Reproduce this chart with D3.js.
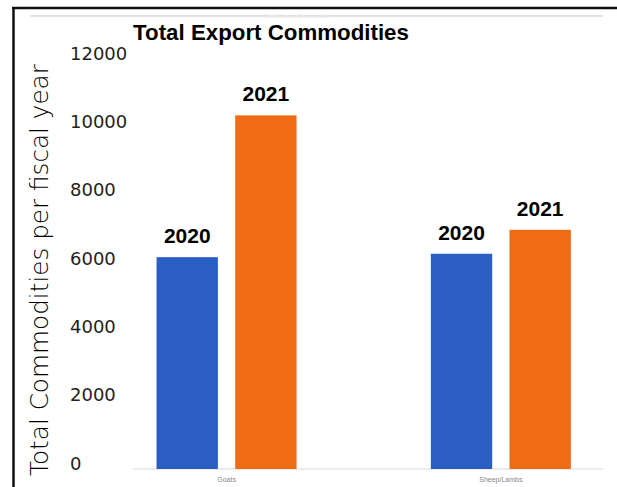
<!DOCTYPE html>
<html>
<head>
<meta charset="utf-8">
<script src="https://cdn.jsdelivr.net/npm/d3@7/dist/d3.min.js"></script>
<style>
  html, body { margin: 0; padding: 0; background: #fff; }
  svg { display: block; }
</style>
</head>
<body>
<svg id="chart" width="617" height="487"></svg>
<script>
// Export commodity totals per fiscal year
const categories = ["Goats", "Sheep/Lambs"];
const seriesNames = ["2020", "2021"];
const values2020 = [6200, 6300];
const values2021 = [10350, 7000];
const yTicks = [0, 2000, 4000, 6000, 8000, 10000, 12000];
const chartTitle = "Total Export Commodities";
const yTitle = "Total Commodities per fiscal year";

const colors = { "2020": "#2b5ec3", "2021": "#ef6b14" };

const svg = d3.select("#chart");
const W = 617, H = 487;

// scales
const y = d3.scaleLinear().domain([0, 12000]).range([469, 59]);
const x = d3.scaleBand().domain(categories).range([89.4, 638.0]);
const xInner = d3.scaleBand().domain(seriesNames).range([-70, 70]).paddingInner(0.22);

// frame lines along the top and left edges
svg.append("line").attr("x1", 12).attr("x2", W).attr("y1", 8).attr("y2", 8)
  .attr("stroke", "#111").attr("stroke-width", 2.5);
svg.append("line").attr("x1", 13.5).attr("x2", 13.5).attr("y1", 7).attr("y2", H)
  .attr("stroke", "#111").attr("stroke-width", 2.5);

// faint inner chart border and small caption
svg.append("line").attr("x1", 30).attr("x2", 603).attr("y1", 16).attr("y2", 16)
  .attr("stroke", "#e4e4e4").attr("stroke-width", 2);
svg.append("text").attr("x", 298).attr("y", 17.5).attr("text-anchor", "middle")
  .attr("font-family", "Liberation Sans, Arial, sans-serif").attr("font-size", 6)
  .attr("fill", "#e2e6ec").text(chartTitle);

// baseline
svg.append("line").attr("x1", 133).attr("x2", 603).attr("y1", y(0)).attr("y2", y(0))
  .attr("stroke", "#d9d9d9").attr("stroke-width", 1);

// bars
const rows = categories.map((c, i) => ({
  category: c,
  items: [
    { series: "2020", value: values2020[i] },
    { series: "2021", value: values2021[i] }
  ]
}));

const groups = svg.append("g").selectAll("g").data(rows).join("g")
  .attr("transform", d => `translate(${x(d.category) + x.bandwidth() / 2},0)`);

groups.selectAll("rect").data(d => d.items).join("rect")
  .attr("x", d => xInner(d.series))
  .attr("width", xInner.bandwidth())
  .attr("y", d => y(d.value))
  .attr("height", d => y(0) - y(d.value))
  .attr("fill", d => colors[d.series]);

// series labels above each bar
groups.selectAll("text.bar-label").data(d => d.items).join("text")
  .attr("class", "bar-label")
  .attr("x", d => xInner(d.series) + xInner.bandwidth() / 2)
  .attr("y", d => y(d.value) - 14)
  .attr("text-anchor", "middle")
  .attr("font-family", "Liberation Sans, Arial, sans-serif")
  .attr("font-weight", "bold")
  .attr("font-size", 21)
  .attr("fill", "#000")
  .text(d => d.series);

// y axis tick labels
const yAxis = svg.append("g").attr("transform", "translate(70,0)")
  .call(d3.axisLeft(y).tickValues(yTicks).tickSize(0).tickFormat(d3.format("d")));
yAxis.select(".domain").remove();
yAxis.selectAll("text")
  .attr("x", 0).attr("dy", 0)
  .attr("text-anchor", "start")
  .attr("font-family", "DejaVu Sans, sans-serif")
  .attr("font-weight", "normal")
  .attr("font-size", 18)
  .attr("fill", "#222");

// x axis category labels
const xAxis = svg.append("g").attr("transform", `translate(0,${y(0)})`)
  .call(d3.axisBottom(x).tickSize(0).tickPadding(8));
xAxis.select(".domain").remove();
xAxis.selectAll("text")
  .attr("font-family", "Liberation Sans, Arial, sans-serif")
  .attr("font-size", 7)
  .attr("fill", "#888");

// fit a text element to a target width
function fitWidth(sel, target) {
  const node = sel.node();
  const fs = parseFloat(sel.attr("font-size"));
  const len = node.getComputedTextLength();
  if (len > 0) sel.attr("font-size", fs * target / len);
}

// chart title
const title = svg.append("text")
  .attr("x", 271).attr("y", 40)
  .attr("text-anchor", "middle")
  .attr("font-family", "Liberation Sans, Arial, sans-serif")
  .attr("font-weight", "bold")
  .attr("font-size", 22)
  .attr("fill", "#000")
  .text(chartTitle);
fitWidth(title, 276);

// y axis title
const yt = svg.append("text")
  .attr("transform", "translate(48,270) rotate(-90)")
  .attr("text-anchor", "middle")
  .attr("font-family", "DejaVu Sans, sans-serif")
  .attr("font-weight", 300)
  .attr("font-size", 21)
  .attr("fill", "#000")
  .text(yTitle);
fitWidth(yt, 412);
</script>
</body>
</html>
